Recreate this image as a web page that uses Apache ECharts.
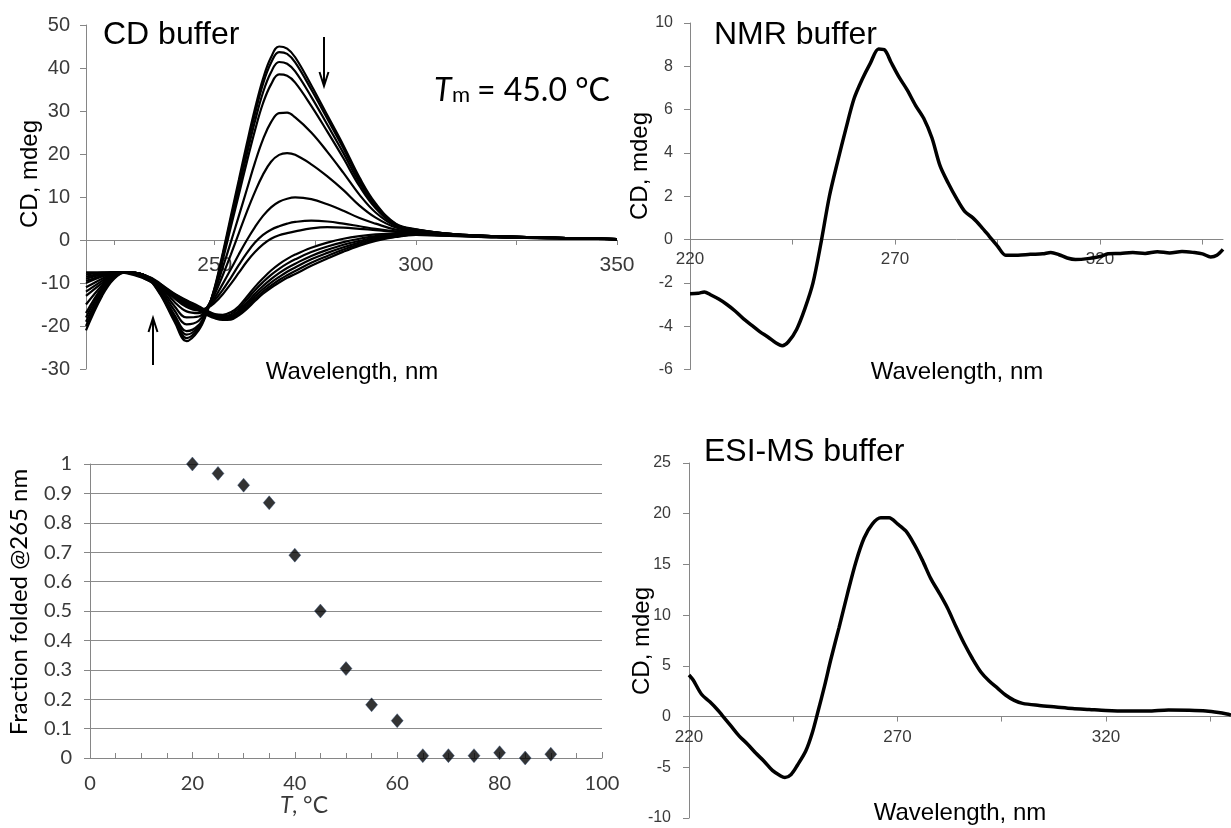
<!DOCTYPE html>
<html><head><meta charset="utf-8">
<script src="https://cdn.jsdelivr.net/npm/echarts@6/dist/echarts.min.js"></script>
<style>html,body{margin:0;padding:0;background:#fff}#chart{width:1231px;height:828px}</style>
</head><body><div id="chart"></div>
<script>
// ---------- Panel 1: CD buffer, thermal series of CD spectra ----------
const cdWavelengths = [218, 222, 225, 228, 232, 236, 240, 243, 246, 248, 250, 252, 254, 256, 258, 260, 262, 264, 266, 268, 270, 274, 278, 282, 286, 290, 295, 300, 310, 320, 335, 350];
const cdTemps = [20, 25, 30, 35, 40, 45, 50, 55, 60, 65, 70, 75, 80, 85, 90];
const cd20 = [-21, -13, -9, -7.5, -8, -12, -19, -23.5, -21, -17, -11, -3, 5.5, 14, 22.5, 30.5, 37.5, 42.5, 45, 44.5, 42.5, 36, 29, 22, 14.5, 8.5, 3.8, 2.5, 1.3, 0.9, 0.5, 0.2];
const cd25 = [-20, -12.5, -8.8, -7.5, -8, -11.8, -18.5, -22.8, -20.6, -16.8, -11.2, -3.5, 4.8, 13.2, 21.5, 29.3, 36.3, 41.2, 43.7, 43.3, 41.3, 35, 28.2, 21.3, 14, 8.2, 3.7, 2.4, 1.3, 0.9, 0.5, 0.2];
const cd30 = [-19, -12, -8.6, -7.5, -8, -11.6, -18, -22, -20.2, -16.6, -11.4, -4, 4, 12, 20, 27.6, 34.3, 39, 41.4, 41, 39.2, 33.3, 26.8, 20.2, 13.3, 7.8, 3.6, 2.4, 1.3, 0.9, 0.5, 0.2];
const cd35 = [-18, -11.5, -8.5, -7.5, -8, -11.4, -17.4, -21.2, -19.8, -16.4, -11.6, -4.6, 3, 10.6, 18.2, 25.5, 31.8, 36.2, 38.5, 38.2, 36.6, 31.2, 25.2, 19, 12.5, 7.4, 3.5, 2.3, 1.3, 0.9, 0.5, 0.2];
const cd40 = [-17, -11, -8.3, -7.5, -8, -11, -16.4, -19.6, -18.8, -16, -12, -6.4, -0.5, 5.6, 11.8, 18, 23.4, 27.4, 29.5, 29.6, 28.5, 25, 20.5, 15.6, 10.5, 6.4, 3.2, 2.2, 1.3, 0.9, 0.5, 0.2];
const cd45 = [-15, -10.5, -8, -7.5, -8, -10.6, -15.4, -18, -17.8, -15.8, -12.6, -8.2, -3.4, 1.6, 6.6, 11.2, 15.2, 18.2, 19.8, 20.2, 19.8, 17.6, 14.8, 11.6, 8, 5.2, 2.9, 2, 1.2, 0.9, 0.5, 0.2];
const cd50 = [-13, -10, -7.8, -7.5, -8, -10.2, -14.4, -16.6, -17, -15.8, -13.4, -10.2, -6.8, -3.3, 0, 3, 5.6, 7.6, 8.9, 9.6, 9.9, 9.5, 8.3, 6.8, 5.1, 3.8, 2.4, 1.9, 1.2, 0.8, 0.5, 0.2];
const cd55 = [-12, -9.5, -7.7, -7.5, -8, -10, -13.6, -15.6, -16.4, -15.8, -14, -11.6, -8.8, -5.8, -3, -0.6, 1.2, 2.4, 3.2, 3.8, 4.2, 4.5, 4.3, 3.8, 3.2, 2.6, 2, 1.7, 1.1, 0.8, 0.5, 0.2];
const cd60 = [-11, -9, -7.6, -7.5, -8, -9.8, -13.2, -15.2, -16.2, -15.9, -14.6, -12.6, -10.2, -7.6, -5, -2.8, -1, 0.3, 1.1, 1.6, 2, 2.7, 3, 2.9, 2.6, 2.3, 1.9, 1.6, 1.1, 0.7, 0.5, 0.2];
const cd65 = [-10, -8.5, -7.5, -7.5, -8.3, -10, -12.5, -14, -15.4, -16.4, -17.2, -17.4, -16.8, -15.4, -13.2, -10.9, -8.9, -7.1, -5.6, -4.4, -3.4, -1.8, -0.6, 0.3, 0.9, 1.3, 1.5, 1.5, 1.1, 0.7, 0.5, 0.2];
const cd70 = [-9.5, -8.3, -7.5, -7.5, -8.4, -10.2, -12.6, -14.2, -15.6, -16.6, -17.4, -17.7, -17.3, -15.9, -13.9, -11.7, -9.8, -8.1, -6.7, -5.5, -4.5, -2.8, -1.5, -0.5, 0.3, 0.9, 1.3, 1.4, 1.1, 0.7, 0.5, 0.2];
const cd75 = [-9, -8, -7.5, -7.5, -8.5, -10.4, -12.8, -14.4, -15.8, -16.8, -17.6, -18, -17.7, -16.4, -14.6, -12.5, -10.7, -9.1, -7.7, -6.5, -5.5, -3.7, -2.3, -1.1, -0.2, 0.6, 1.1, 1.3, 1, 0.7, 0.4, 0.2];
const cd80 = [-8.5, -7.8, -7.5, -7.5, -8.6, -10.5, -13, -14.6, -16, -17, -17.8, -18.2, -18, -16.8, -15.1, -13.1, -11.4, -9.9, -8.6, -7.4, -6.4, -4.5, -3, -1.7, -0.6, 0.3, 0.9, 1.3, 1, 0.7, 0.4, 0.2];
const cd85 = [-8, -7.6, -7.5, -7.6, -8.7, -10.7, -13.2, -14.8, -16.2, -17.2, -18, -18.4, -18.3, -17.2, -15.6, -13.7, -12, -10.6, -9.3, -8.2, -7.2, -5.3, -3.7, -2.2, -1, 0, 0.8, 1.2, 1, 0.6, 0.4, 0.2];
const cd90 = [-7.5, -7.5, -7.5, -7.7, -8.8, -10.8, -13.3, -15, -16.4, -17.4, -18.2, -18.6, -18.5, -17.5, -16, -14.2, -12.5, -11.1, -9.9, -8.8, -7.9, -6, -4.3, -2.7, -1.3, -0.2, 0.7, 1.2, 0.9, 0.6, 0.4, 0.2];
const cdCurves = [cd20, cd25, cd30, cd35, cd40, cd45, cd50, cd55, cd60, cd65, cd70, cd75, cd80, cd85, cd90];

// ---------- Panel 2: NMR buffer ----------
const nmrWavelengths = [220, 222, 223.5, 225, 227, 229, 231, 233, 235, 237, 239, 241, 242.5, 244, 246, 248, 250, 252, 254, 256, 258, 260, 262, 264, 266, 267.5, 269, 271, 273, 275, 277, 279, 281, 283, 285, 287, 289, 291, 293, 295, 297, 300, 303, 306, 308, 310, 312, 314, 317, 320, 322, 325, 328, 331, 334, 337, 340, 343, 345, 347, 348.5, 350];
const nmrValues = [-2.5, -2.48, -2.42, -2.55, -2.75, -3.0, -3.3, -3.65, -3.95, -4.25, -4.5, -4.78, -4.9, -4.72, -4.15, -3.2, -2.0, -0.1, 2.0, 3.6, 5.1, 6.5, 7.4, 8.15, 8.8, 8.75, 8.2, 7.5, 6.9, 6.2, 5.6, 4.7, 3.4, 2.6, 1.9, 1.3, 1.0, 0.6, 0.15, -0.3, -0.72, -0.72, -0.68, -0.66, -0.6, -0.7, -0.85, -0.92, -0.88, -0.78, -0.66, -0.64, -0.6, -0.64, -0.56, -0.62, -0.55, -0.6, -0.66, -0.8, -0.72, -0.45];

// ---------- Panel 3: melting curve ----------
const meltTemps = [20, 25, 30, 35, 40, 45, 50, 55, 60, 65, 70, 75, 80, 85, 90];
const meltFraction = [1.0, 0.968, 0.928, 0.868, 0.69, 0.5, 0.304, 0.181, 0.127, 0.008, 0.008, 0.008, 0.018, 0.0, 0.013];

// ---------- Panel 4: ESI-MS buffer ----------
const esiWavelengths = [220, 221, 223, 225, 227, 228, 230, 232, 234, 236, 238, 240, 242, 243, 244.5, 246, 248, 249.5, 251, 252.5, 254, 256, 258, 260, 262, 264, 266, 268, 270, 272, 274, 276, 278, 280, 282, 284, 286, 288, 290, 292, 294, 296, 298, 300, 304, 308, 312, 316, 320, 325, 330, 335, 340, 344, 347, 349, 350];
const esiValues = [4.1, 3.6, 2.2, 1.45, 0.6, 0.1, -0.9, -1.9, -2.7, -3.6, -4.4, -5.3, -5.85, -6.0, -5.7, -4.8, -3.4, -1.7, 0.6, 3.0, 5.6, 8.8, 12.1, 15.2, 17.6, 19.0, 19.6, 19.6, 19.0, 18.3, 17.0, 15.4, 13.6, 12.2, 10.7, 8.9, 7.2, 5.7, 4.4, 3.5, 2.8, 2.1, 1.6, 1.3, 1.1, 0.95, 0.8, 0.7, 0.6, 0.55, 0.55, 0.65, 0.62, 0.55, 0.4, 0.25, 0.15];

// ---------- Tick labels ----------
const cdTickValues = [225, 250, 275, 300, 325, 350];
const cdLabelValues = [250, 300, 350];
const wlTickValues = [220, 245, 270, 295, 320, 345];
const wlLabelValues = [220, 270, 320];

// ---------- Chart ----------
const AX = '#868686';
const LBL = '#3a3a3a';
const SANS = "'Liberation Sans', Arial, sans-serif";
const CAL = "Lato, 'Open Sans', sans-serif";
const pairs = (xs, ys) => xs.map((x, i) => [x, ys[i]]);

const grids = [
  { left: 86, top: 25, width: 531, height: 344 },
  { left: 690, top: 23, width: 533, height: 346.5 },
  { left: 90, top: 464, width: 512, height: 294 },
  { left: 689, top: 463, width: 544, height: 355 }
];
const yRanges = [[-30, 50], [-6, 10], [0, 1], [-10, 25]];
// offset (negative = upwards) that puts a bottom x axis on the y = 0 line of its grid
const zeroOffset = g => -grids[g].height * (0 - yRanges[g][0]) / (yRanges[g][1] - yRanges[g][0]);

const chart = echarts.init(document.getElementById('chart'), null, { renderer: 'canvas' });

function yAx(grid, interval, fs, margin, family, extra) {
  return Object.assign({
    gridIndex: grid, type: 'value', min: yRanges[grid][0], max: yRanges[grid][1], interval: interval,
    axisLine: { show: true, onZero: false, lineStyle: { color: AX, width: 1 } },
    axisTick: { show: true, length: 6, lineStyle: { color: AX } },
    axisLabel: { fontSize: fs, fontFamily: family, color: LBL, margin: margin },
    splitLine: { show: false }
  }, extra || {});
}
function wlX(grid, min, ticks, labels, fs, margin) {
  return {
    gridIndex: grid, type: 'value', min: min, max: 350, position: 'bottom', offset: zeroOffset(grid),
    axisLine: { show: true, onZero: false, lineStyle: { color: AX, width: 1 } },
    axisTick: { show: true, length: 5, customValues: ticks, lineStyle: { color: AX } },
    axisLabel: { customValues: labels, fontSize: fs, fontFamily: SANS, color: LBL, margin: margin },
    splitLine: { show: false }
  };
}

const series = [];
cdCurves.forEach((c, i) => {
  series.push({
    name: cdTemps[i] + ' °C', type: 'line', xAxisIndex: 0, yAxisIndex: 0,
    data: pairs(cdWavelengths, c), showSymbol: false, smooth: 0.4,
    lineStyle: { color: '#000', width: 2.2 }, silent: true, z: 3
  });
});
series.push({
  name: 'NMR', type: 'line', xAxisIndex: 1, yAxisIndex: 1,
  data: pairs(nmrWavelengths, nmrValues), showSymbol: false, smooth: 0.3,
  lineStyle: { color: '#000', width: 3.5 }, silent: true, z: 3
});
series.push({
  name: 'Fraction folded', type: 'scatter', xAxisIndex: 2, yAxisIndex: 2,
  data: pairs(meltTemps, meltFraction), symbol: 'diamond', symbolSize: [12, 14],
  itemStyle: { color: '#000000', borderColor: '#2f4f80', borderWidth: 0.5 }, silent: true, z: 3
});
series.push({
  name: 'ESI-MS', type: 'line', xAxisIndex: 3, yAxisIndex: 3,
  data: pairs(esiWavelengths, esiValues), showSymbol: false, smooth: 0.3,
  lineStyle: { color: '#000', width: 3.5 }, silent: true, z: 3
});

function txt(x, y, text, fs, opts) {
  opts = opts || {};
  return {
    type: 'text', x: x, y: y, rotation: opts.rot || 0, z: 100,
    style: {
      text: text, fontSize: fs, fontFamily: opts.family || SANS, fontStyle: opts.italic ? 'italic' : 'normal',
      fill: opts.color || '#000', textAlign: opts.align || 'left', textVerticalAlign: 'middle',
      align: opts.align || 'left', verticalAlign: 'middle'
    }
  };
}

const graphic = [
  txt(103, 35, 'CD buffer', 32),
  txt(714, 35, 'NMR buffer', 32),
  txt(704, 452, 'ESI-MS buffer', 32),
  txt(434, 91, 'T', 32, { family: CAL, italic: true }),
  txt(452, 95, 'm', 22, { family: CAL }),
  txt(477, 91, '= 45.0 °C', 32, { family: CAL }),
  txt(352, 372, 'Wavelength, nm', 24, { align: 'center' }),
  txt(957, 372, 'Wavelength, nm', 24, { align: 'center' }),
  txt(960, 813, 'Wavelength, nm', 24, { align: 'center' }),
  txt(30, 174, 'CD, mdeg', 24, { align: 'center', rot: Math.PI / 2 }),
  txt(640, 166, 'CD, mdeg', 24, { align: 'center', rot: Math.PI / 2 }),
  txt(642, 641, 'CD, mdeg', 24, { align: 'center', rot: Math.PI / 2 }),
  txt(19, 602, 'Fraction folded @265 nm', 24, { align: 'center', rot: Math.PI / 2, family: CAL }),
  txt(280, 806, 'T', 23, { family: CAL, italic: true, color: LBL }),
  txt(292, 806, ', °C', 23, { family: CAL, color: LBL }),
  { type: 'line', z: 100, shape: { x1: 324, y1: 37, x2: 324, y2: 84 }, style: { stroke: '#000', lineWidth: 2 } },
  { type: 'polyline', z: 100, shape: { points: [[319.5, 72], [324, 86], [328.5, 72]] }, style: { stroke: '#000', lineWidth: 2, fill: null } },
  { type: 'line', z: 100, shape: { x1: 153, y1: 365, x2: 153, y2: 320 }, style: { stroke: '#000', lineWidth: 2 } },
  { type: 'polyline', z: 100, shape: { points: [[148.5, 332], [153, 318], [157.5, 332]] }, style: { stroke: '#000', lineWidth: 2, fill: null } }
];

const option = {
  backgroundColor: '#fff',
  animation: false,
  grid: grids,
  xAxis: [
    wlX(0, 218, cdTickValues, cdLabelValues, 21, 15),
    wlX(1, 220, wlTickValues, wlLabelValues, 17, 11),
    {
      gridIndex: 2, type: 'value', min: 0, max: 100, interval: 20,
      axisLine: { show: true, onZero: false, lineStyle: { color: AX, width: 1 } },
      axisTick: { show: true, inside: true, length: 6, lineStyle: { color: AX } },
      minorTick: { show: true, splitNumber: 4, length: 5, lineStyle: { color: AX } },
      axisLabel: { fontSize: 20, fontFamily: CAL, color: LBL, margin: 16 },
      splitLine: { show: false }
    },
    wlX(3, 220, wlTickValues, wlLabelValues, 17, 12)
  ],
  yAxis: [
    yAx(0, 10, 20, 16, SANS),
    yAx(1, 2, 16, 17, SANS),
    yAx(2, 0.1, 20, 18, CAL, {
      axisLabel: { fontSize: 20, fontFamily: CAL, color: LBL, margin: 18,
        formatter: v => (Math.abs(v) < 1e-9 ? '0' : Math.abs(v - 1) < 1e-9 ? '1' : v.toFixed(1)) },
      splitLine: { show: true, lineStyle: { color: '#8c8c8c', width: 1 } }
    }),
    yAx(3, 5, 16, 18, SANS)
  ],
  series: series,
  graphic: graphic
};
chart.setOption(option);
</script>
</body></html>
